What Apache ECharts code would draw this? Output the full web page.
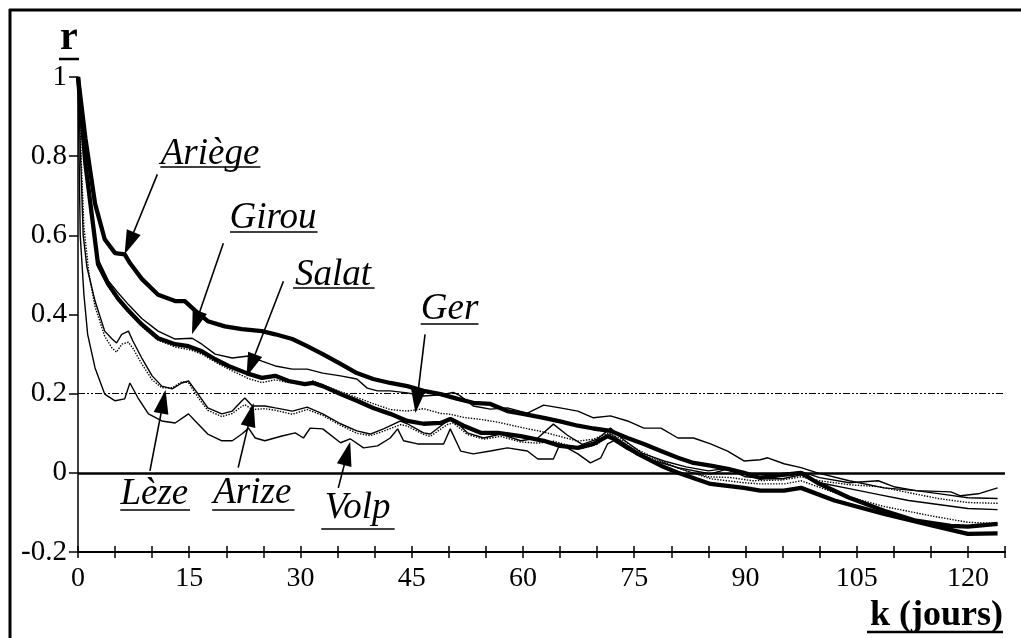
<!DOCTYPE html>
<html><head><meta charset="utf-8">
<script src="https://cdn.jsdelivr.net/npm/echarts@6/dist/echarts.min.js"></script>
<style>html,body{margin:0;padding:0;background:#fff}#c{width:1021px;height:638px}</style>
</head><body><div id="c"></div>
<script>
// ---- data: [k (jours), r] ----
const ariege = [[0,1],[1,0.845],[2.3,0.68],[3.6,0.59],[5,0.555],[6.3,0.552],[7,0.53],[8.6,0.49],[10.8,0.45],[13.1,0.434],[14.4,0.434],[15.8,0.41],[17.5,0.383],[19.8,0.37],[22.1,0.363],[24.8,0.358],[26.6,0.35],[28.9,0.338],[30.9,0.32],[33,0.3],[35.4,0.275],[37.6,0.252],[39.8,0.237],[42.1,0.227],[44.4,0.219],[46.6,0.207],[48.9,0.199],[51.2,0.187],[53.3,0.177],[55.6,0.174],[57.9,0.156],[60,0.149],[62.8,0.139],[65,0.13],[67.4,0.119],[69.5,0.112],[71.8,0.106],[74.1,0.088],[76.3,0.073],[78.6,0.055],[80.9,0.038],[83,0.025],[85.3,0.018],[87.6,0.01],[89.8,0],[92,-0.013],[95,-0.005],[97.5,0],[99.7,-0.025],[104,-0.063],[108.7,-0.096],[113,-0.121],[117.7,-0.134],[120,-0.136],[124,-0.129]];
const salat = [[0,1],[1,0.78],[2.7,0.527],[4.1,0.476],[5.4,0.44],[6.8,0.41],[8.6,0.375],[10.8,0.34],[13.1,0.325],[14.9,0.32],[16.7,0.307],[18.5,0.287],[20.3,0.27],[23,0.25],[24.8,0.24],[26.6,0.245],[28.4,0.232],[30.6,0.224],[31.7,0.227],[33,0.219],[35.4,0.199],[37.6,0.182],[39.8,0.164],[42.1,0.149],[44.4,0.131],[46.6,0.124],[48.9,0.126],[50.2,0.136],[52,0.119],[54.3,0.101],[56.6,0.101],[59.7,0.093],[62.8,0.081],[65,0.068],[67.4,0.063],[69.5,0.073],[71.4,0.093],[72.8,0.081],[75.5,0.048],[78.6,0.018],[80.9,0],[85.3,-0.028],[89.8,-0.038],[92,-0.045],[95.2,-0.045],[97.5,-0.038],[102,-0.07],[108.7,-0.104],[115.4,-0.134],[120,-0.154],[124,-0.153]];
const girou = [[0,1],[1,0.79],[2.7,0.54],[4.1,0.485],[5.4,0.455],[6.8,0.425],[8.6,0.39],[10.8,0.358],[13.1,0.338],[15.4,0.34],[16.7,0.325],[18.5,0.3],[20.8,0.29],[23,0.295],[24.8,0.282],[26.6,0.27],[28.9,0.262],[30.9,0.262],[33,0.252],[35.4,0.245],[37.6,0.237],[39,0.214],[40.4,0.207],[42.1,0.207],[44.4,0.202],[46.6,0.194],[48.9,0.197],[50.6,0.203],[51.5,0.195],[53.3,0.169],[55.6,0.161],[57.9,0.164],[60.6,0.151],[62.8,0.171],[65,0.164],[67.4,0.156],[69.5,0.139],[71.8,0.144],[74.1,0.131],[76.3,0.113],[78.6,0.113],[80.9,0.088],[83,0.088],[85.3,0.073],[87.6,0.055],[89.8,0.03],[92,0.033],[93,0.038],[95.2,0.023],[97.5,0.013],[99.7,0],[104,-0.02],[108.7,-0.038],[113,-0.045],[117.7,-0.048],[119,-0.058],[121.4,-0.053],[124,-0.038]];
const ger = [[0,1],[1,0.78],[2.7,0.52],[4.1,0.47],[5.4,0.435],[6.8,0.405],[8.6,0.37],[10.8,0.335],[13.1,0.318],[14.9,0.312],[16.7,0.3],[18.5,0.28],[20.3,0.262],[23,0.238],[24.8,0.228],[26.6,0.235],[28.4,0.228],[30.6,0.225],[31.7,0.232],[33,0.222],[35.4,0.205],[37.6,0.19],[39.8,0.175],[42.1,0.16],[44.4,0.156],[46.6,0.162],[48.9,0.15],[50.2,0.148],[52,0.14],[54.3,0.135],[56.6,0.128],[59.7,0.115],[62.8,0.103],[65,0.092],[67.4,0.08],[69.5,0.085],[71.4,0.1],[72.8,0.09],[75.5,0.058],[78.6,0.03],[80.9,0.012],[85.3,-0.015],[89.8,-0.025],[92,-0.028],[95.2,-0.028],[97.5,-0.02],[102,-0.05],[108.7,-0.085],[115.4,-0.11],[120,-0.125],[124,-0.128]];
const leze = [[0,1],[0.7,0.6],[1.2,0.52],[2.3,0.434],[3.6,0.358],[4.6,0.338],[5.2,0.328],[5.9,0.35],[6.8,0.358],[7.4,0.333],[8.6,0.29],[10,0.245],[11.3,0.219],[12.7,0.212],[14,0.227],[14.9,0.232],[16.2,0.199],[17.5,0.164],[19.4,0.149],[20.8,0.156],[22.1,0.182],[22.5,0.189],[23.5,0.169],[25.2,0.169],[26.6,0.164],[28.9,0.156],[30.9,0.166],[33,0.149],[35.4,0.124],[37.6,0.106],[39.4,0.098],[41.2,0.111],[43.5,0.131],[44.4,0.124],[46.6,0.101],[47.5,0.098],[49.8,0.131],[50.6,0.136],[52.5,0.101],[54.7,0.088],[57,0.098],[59.7,0.081],[62,0.088],[64.1,0.123],[66,0.095],[68,0.072],[70,0.085],[71.8,0.113],[73.5,0.085],[76,0.05],[79,0.03],[82,0.015],[85,0.005],[87,0.01],[89,0],[92,-0.005],[95,-0.005],[97.5,0.003],[100,-0.012],[104,-0.025],[107.9,-0.02],[110,-0.035],[113,-0.045],[117,-0.055],[120,-0.063],[124,-0.065]];
const arize = [[0,1],[0.8,0.62],[1.5,0.5],[2.3,0.42],[3.6,0.345],[4.6,0.315],[5.2,0.305],[5.9,0.325],[6.8,0.33],[7.4,0.315],[8.6,0.275],[10,0.235],[11.3,0.215],[12.7,0.215],[14,0.23],[14.9,0.228],[16.2,0.19],[17.5,0.158],[19.4,0.142],[20.8,0.15],[22.1,0.168],[22.5,0.172],[23.5,0.16],[25.2,0.162],[26.6,0.158],[28.9,0.148],[30.9,0.16],[33,0.145],[35.4,0.12],[37.6,0.1],[39.4,0.094],[41.2,0.105],[43.5,0.122],[44.4,0.118],[46.6,0.097],[47.5,0.092],[49.8,0.122],[50.6,0.126],[52.5,0.097],[54.7,0.085],[57,0.092],[59.7,0.078],[62,0.075],[64.1,0.08],[66,0.07],[68,0.062],[70,0.072],[71.8,0.1],[73.5,0.075],[76,0.045],[79,0.025],[82,0.005],[85,-0.01],[88,-0.012],[91,-0.02],[95,-0.018],[97.5,-0.01],[100,-0.02],[104,-0.03],[108,-0.035],[112,-0.05],[116,-0.065],[120,-0.075],[124,-0.077]];
const volp = [[0,1],[0.3,0.6],[0.8,0.45],[1.3,0.35],[2.3,0.265],[3.6,0.199],[5,0.182],[6.3,0.187],[7,0.227],[8.1,0.189],[9.5,0.149],[11.3,0.131],[13.1,0.126],[14.9,0.149],[15.8,0.131],[17.5,0.098],[19.4,0.081],[20.8,0.081],[22.1,0.098],[23,0.113],[23.9,0.088],[25.2,0.081],[27.5,0.093],[29.3,0.101],[30.4,0.088],[31.3,0.113],[33,0.111],[35.4,0.076],[36.7,0.086],[38.5,0.063],[40.4,0.068],[42.1,0.088],[43.1,0.111],[43.9,0.081],[45.8,0.073],[49.3,0.073],[50.2,0.111],[51.6,0.055],[53.3,0.048],[55.6,0.055],[57.9,0.063],[60.6,0.055],[62,0.035],[64.1,0.035],[65,0.073],[67.4,0.048],[69.1,0.025],[70.5,0.038],[71.4,0.073],[72.2,0.081],[74,0.06],[76.3,0.038],[80.9,0.013],[85.3,-0.003],[87.6,0.01],[90,-0.01],[93,-0.015],[95,-0.015],[97.5,-0.005],[100,-0.025],[104,-0.04],[108,-0.055],[112,-0.07],[116,-0.08],[120,-0.09],[124,-0.093]];

const xTickLabels = [0, 15, 30, 45, 60, 75, 90, 105, 120];
const yTickLabels = [-0.2, 0, 0.2, 0.4, 0.6, 0.8, 1];
const refLines = [0, 0.2];

// ---- annotations (data coordinates) ----
const labelNames   = ['Ariège', 'Girou', 'Salat', 'Ger', 'Lèze', 'Arize', 'Volp'];
const labelCenters = [[17.8,0.806],[26.3,0.642],[34.4,0.5],[50.1,0.412],[10.3,-0.054],[23.5,-0.052],[37.7,-0.09]];
const underlines   = [[11.1,24.6,0.774],[20.5,32.3,0.61],[29.0,40.0,0.467],[46.2,54.0,0.376],[5.7,15.1,-0.093],[18.1,29.2,-0.093],[32.8,42.7,-0.141]];
const arrowStarts  = [[10.7,0.754],[19.6,0.58],[27.7,0.484],[46.8,0.35],[9.7,0.005],[21.6,0.013],[35.1,-0.038]];
const arrowHeads   = [[6.9,0.58],[15.9,0.379],[23.3,0.271],[45.7,0.181],[11.5,0.18],[23.3,0.147],[36.3,0.049]];

const FONT = '"Liberation Serif","Times New Roman",serif';
const chart = echarts.init(document.getElementById('c'), null, {renderer:'canvas'});

function lineSeries(name, data, width, type, z) {
  return {name, type:'line', data, symbol:'none', smooth:false, z,
    lineStyle:{color:'#000', width, type}, animation:false, silent:true};
}

const annotLines = [];
labelNames.forEach((n, i) => {
  annotLines.push([{coord:arrowStarts[i], symbol:'none'},
                   {coord:arrowHeads[i], symbol:'triangle', symbolSize:[15,24]}]);
  annotLines.push([{coord:[underlines[i][0], underlines[i][2]], symbol:'none'},
                   {coord:[underlines[i][1], underlines[i][2]], symbol:'none'}]);
});

const option = {
  backgroundColor:'#fff',
  animation:false,
  grid:[{left:78, right:16, top:77, bottom:86, containLabel:false},
        {left:78, right:16, top:77, bottom:86, containLabel:false}],
  xAxis:[{type:'value', gridIndex:0, min:0, max:125, interval:5, position:'bottom',
    axisLine:{onZero:false, lineStyle:{color:'#000', width:2}},
    axisTick:{show:true, inside:false, length:6, lineStyle:{color:'#000', width:1.5}},
    axisLabel:{color:'#000', fontFamily:FONT, fontSize:28, margin:13,
      formatter:v => xTickLabels.indexOf(v) >= 0 ? String(v) : ''},
    splitLine:{show:false}},
   {type:'value', gridIndex:1, min:0, max:125, interval:5, position:'bottom',
    axisLine:{show:false, onZero:false}, axisLabel:{show:false}, splitLine:{show:false},
    axisTick:{show:true, inside:true, length:6, lineStyle:{color:'#000', width:1.5}}}],
  yAxis:[{type:'value', gridIndex:0, min:-0.2, max:1, interval:0.2,
    axisLine:{show:true, onZero:false, lineStyle:{color:'#000', width:1.5}},
    axisTick:{show:true, inside:false, length:9, lineStyle:{color:'#000', width:1.5}},
    axisLabel:{color:'#000', fontFamily:FONT, fontSize:29, margin:11,
      formatter:v => { const r = Math.round(v*10)/10; return yTickLabels.indexOf(r) >= 0 ? String(r) : ''; }},
    splitLine:{show:false}},
   {type:'value', gridIndex:1, min:-0.2, max:1, show:false}],
  series:[
    lineSeries('Volp', volp, 1.4, 'solid', 3),
    lineSeries('Arize', arize, 1.4, 'dotted', 3),
    lineSeries('Lèze', leze, 1.4, 'solid', 3),
    lineSeries('Ger', ger, 1.4, 'dotted', 3),
    lineSeries('Girou', girou, 1.4, 'solid', 3),
    lineSeries('Salat', salat, 4.3, 'solid', 4),
    lineSeries('Ariège', ariege, 4.3, 'solid', 4),
    {name:'refs', type:'line', data:[], symbol:'none', z:2, silent:true,
      markLine:{silent:true, symbol:'none', animation:false, label:{show:false},
        data:[{yAxis:refLines[0], lineStyle:{color:'#000', width:2.5, type:'solid'}},
              {yAxis:refLines[1], lineStyle:{color:'#000', width:1, type:[7,2,2,2,2,2]}}]}},
    {name:'annot', type:'line', data:[], symbol:'none', z:5, silent:true,
      markLine:{silent:true, animation:false, label:{show:false},
        lineStyle:{color:'#000', width:1.6, type:'solid'},
        itemStyle:{color:'#000'},
        data:annotLines},
      markPoint:{silent:true, animation:false, symbol:'circle', symbolSize:0,
        label:{show:true, position:'inside', formatter:'{b}', color:'#000',
          fontFamily:FONT, fontStyle:'italic', fontSize:37},
        data:labelNames.map((n,i)=>({name:n, coord:labelCenters[i]}))}}
  ],
  graphic:[
    {type:'line', shape:{x1:10, y1:9, x2:10, y2:638}, style:{stroke:'#000', lineWidth:3}},
    {type:'line', shape:{x1:9, y1:10, x2:1021, y2:10}, style:{stroke:'#000', lineWidth:3}},
    {type:'text', x:69, y:59, style:{text:'r', font:'bold 40px '+FONT, fill:'#000', textAlign:'center', textVerticalAlign:'bottom'}},
    {type:'line', shape:{x1:59, y1:59, x2:79, y2:59}, style:{stroke:'#000', lineWidth:2.5}},
    {type:'text', x:1003, y:634, style:{text:'k (jours)', font:'bold 36px '+FONT, fill:'#000', textAlign:'right', textVerticalAlign:'bottom'}},
    {type:'line', shape:{x1:867, y1:632, x2:1003, y2:632}, style:{stroke:'#000', lineWidth:2.5}}
  ]
};
chart.setOption(option);
</script></body></html>
